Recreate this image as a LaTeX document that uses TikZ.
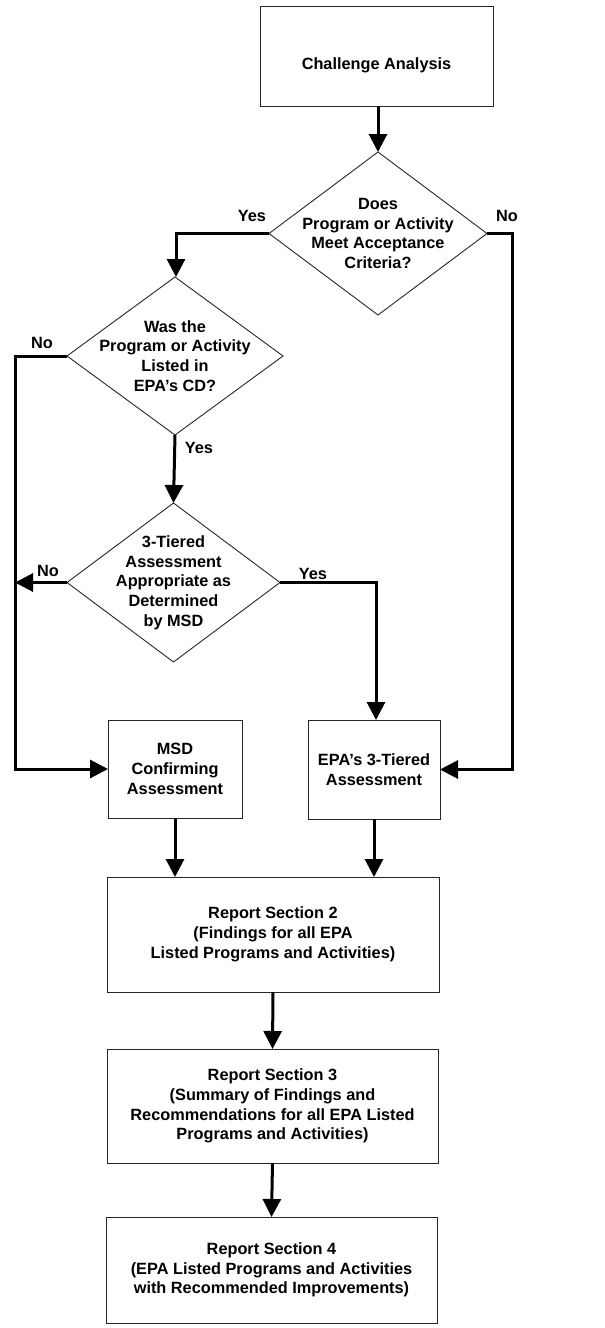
\documentclass[tikz,border=0pt]{standalone}
\usepackage{fontspec}
\setmainfont{Liberation Sans}
\usetikzlibrary{shapes.geometric,arrows.meta}
\begin{document}
\begin{tikzpicture}[x=1pt,y=-1pt,
  every node/.style={font=\bfseries\fontsize{16.3}{19.7}\selectfont, align=center, inner sep=0pt, outer sep=0pt},
  box/.style={draw=black!85, line width=0.9pt, rectangle},
  dia/.style={draw=black!85, line width=0.9pt, diamond},
  conn/.style={line width=3pt, -{Triangle[width=18pt,length=18pt]}},
  lbl/.style={}]
\useasboundingbox (0,0) rectangle (605,1328);

% process boxes
\node[box, minimum width=233pt, minimum height=100pt] (ca) at (376.5,56) {};
\node at ([yshift=-9pt]ca.center) {Challenge Analysis};

% decision diamonds (shape and text drawn separately)
\node[dia, minimum width=218pt, minimum height=163pt] (d1) at (378,233.5) {};
\node at (d1.center) {Does\\Program or Activity\\Meet Acceptance\\Criteria?};

\node[dia, minimum width=216pt, minimum height=158pt] (d2) at (175,356) {};
\node at (d2.center) {Was the\\Program or Activity\\Listed in\\EPA's CD?};

\node[dia, minimum width=213pt, minimum height=159pt] (d3) at (173.5,582.5) {};
\node at (d3.center) {3-Tiered\\Assessment\\Appropriate as\\Determined\\by MSD};

\node[box, minimum width=134pt, minimum height=98pt] (msd) at (175,769) {MSD\\Confirming\\Assessment};
\node[box, minimum width=132pt, minimum height=99pt] (epa) at (374,769.5) {EPA's 3-Tiered\\Assessment};

\node[box, minimum width=332pt, minimum height=115pt] (rs2) at (273,934.5) {Report Section 2\\(Findings for all EPA\\Listed Programs and Activities)};
\node[box, minimum width=331pt, minimum height=114pt] (rs3) at (272.5,1106) {Report Section 3\\(Summary of Findings and\\Recommendations for all EPA Listed\\Programs and Activities)};
\node[box, minimum width=331pt, minimum height=106pt] (rs4) at (271.5,1270) {Report Section 4\\(EPA Listed Programs and Activities\\with Recommended Improvements)};

% junction on the left return line
\coordinate (lj) at (15,582.5);

% connectors
\draw[conn] (d1.north |- ca.south) -- (d1.north);
\draw[conn] (d1.west) -| ([xshift=1pt]d2.north);
\draw[conn] (d1.east) -- ++(25,0) |- (epa.east);
\draw[conn] (d2.west) -- ++(-52,0) |- (msd.west);
\draw[conn] (d2.south) -- (d3.north);
\draw[conn] (d3.west) -- (lj);
\draw[conn] (d3.east) -| ([xshift=2pt]epa.north);
\draw[conn] (msd.south) -- (msd.south |- rs2.north);
\draw[conn] (epa.south) -- (epa.south |- rs2.north);
\draw[conn] (rs2.south) -- (rs3.north);
\draw[conn] (rs3.south) -- (rs4.north);

% branch labels
\node[lbl] at (252,216) {Yes};
\node[lbl] at (507,216) {No};
\node[lbl] at (42,343) {No};
\node[lbl] at (199,448) {Yes};
\node[lbl] at (48,571) {No};
\node[lbl] at (313,574) {Yes};
\end{tikzpicture}
\end{document}
